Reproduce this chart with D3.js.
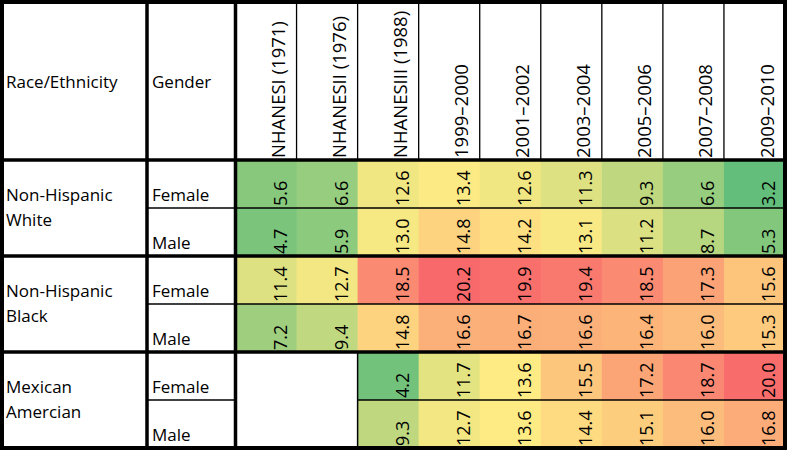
<!DOCTYPE html>
<html>
<head>
<meta charset="utf-8">
<script src="https://cdn.jsdelivr.net/npm/d3@7"></script>
<style>
body { margin: 0; background: #fff; }
text { font-family: "Open Sans", sans-serif; fill: #000; }
</style>
</head>
<body>
<div class="svg-container"></div>
<script>
// survey columns
var surveys = ["NHANESI (1971)", "NHANESII (1976)", "NHANESIII (1988)", "1999–2000",
               "2001–2002", "2003–2004", "2005–2006", "2007–2008", "2009–2010"];
var groups = ["Non-Hispanic White", "Non-Hispanic Black", "Mexican Amercian"];
var genders = ["Female", "Male"];

// values per row (null = no survey)
var white_female = [5.6, 6.6, 12.6, 13.4, 12.6, 11.3, 9.3, 6.6, 3.2];
var white_male   = [4.7, 5.9, 13.0, 14.8, 14.2, 13.1, 11.2, 8.7, 5.3];
var black_female = [11.4, 12.7, 18.5, 20.2, 19.9, 19.4, 18.5, 17.3, 15.6];
var black_male   = [7.2, 9.4, 14.8, 16.6, 16.7, 16.6, 16.4, 16.0, 15.3];
var mex_female   = [null, null, 4.2, 11.7, 13.6, 15.5, 17.2, 18.7, 20.0];
var mex_male     = [null, null, 9.3, 12.7, 13.6, 14.4, 15.1, 16.0, 16.8];

var rows = [white_female, white_male, black_female, black_male, mex_female, mex_male];

var width = 787, height = 450;
var x0 = 2, y0 = 2, x1 = 785, y1 = 448;
var raceRight = 147, genderRight = 235.5, headerBottom = 160;

var svg = d3.select(".svg-container")
    .append("svg")
    .attr("width", width)
    .attr("height", height);

var x = d3.scaleBand().domain(surveys).range([genderRight, x1]);
var y = d3.scaleBand().domain(d3.range(rows.length)).range([headerBottom, y1]);

var all = rows.flat().filter(v => v != null);
var color = d3.scaleLinear()
    .domain([d3.min(all), d3.median(all), d3.max(all)])
    .range(["#63BE7B", "#FFEB84", "#F8696B"]);

var fmt = d3.format(".1f");

// flatten cells
var cells = [];
rows.forEach(function(r, i) {
    r.forEach(function(v, j) {
        if (v != null) cells.push({i: i, j: j, v: v});
    });
});

svg.append("g").selectAll("rect")
    .data(cells)
    .enter()
    .append("rect")
    .attr("x", d => x(surveys[d.j]))
    .attr("y", d => y(d.i))
    .attr("width", x.bandwidth() + 0.6)
    .attr("height", y.bandwidth())
    .attr("fill", d => color(d.v));

svg.append("g").selectAll("text")
    .data(cells)
    .enter()
    .append("text")
    .attr("transform", d => "translate(" + (x(surveys[d.j]) + x.bandwidth() - 10) + "," +
          (y(d.i) + y.bandwidth() - 2) + ") rotate(-90)")
    .style("font-size", "18px")
    .text(d => fmt(d.v));

// header labels
svg.append("text").attr("x", 6).attr("y", 88).style("font-size", "17px").text("Race/Ethnicity");
svg.append("text").attr("x", 152).attr("y", 88).style("font-size", "17px").text("Gender");

svg.append("g").selectAll("text")
    .data(surveys)
    .enter()
    .append("text")
    .attr("transform", d => "translate(" + (x(d) + x.bandwidth() - 11.5) + "," + 158 + ") rotate(-90)")
    .style("font-size", "18.5px")
    .text(d => d);

// group labels, two lines
var glabels = svg.append("g").selectAll("text")
    .data(groups)
    .enter()
    .append("text")
    .attr("x", 6)
    .attr("y", (d, g) => y(g * 2) + 41)
    .style("font-size", "17px");
glabels.selectAll("tspan")
    .data(d => d.split(" "))
    .enter()
    .append("tspan")
    .attr("x", 6)
    .attr("dy", (d, k) => k == 0 ? 0 : 25)
    .text(d => d);

// gender labels
svg.append("g").selectAll("text")
    .data(rows)
    .enter()
    .append("text")
    .attr("x", 152)
    .attr("y", (d, i) => y(i) + y.bandwidth() - 7)
    .style("font-size", "17px")
    .text((d, i) => genders[i % 2]);

// grid lines
var lines = svg.append("g").attr("stroke", "#000");

function line(ax, ay, bx, by, w) {
    lines.append("line")
        .attr("x1", ax).attr("y1", ay).attr("x2", bx).attr("y2", by)
        .attr("stroke-width", w);
}

// thin header separators
surveys.slice(1).forEach(function(s) { line(x(s), y0, x(s), headerBottom, 1.3); });

// female / male split
rows.forEach(function(r, i) {
    if (i % 2 == 0) return;
    var yy = y(i);
    var firstCol = rows[i - 1].findIndex(v => v != null);
    if (firstCol > 0) {
        line(raceRight, yy, genderRight, yy, 1.5);
        line(x(surveys[firstCol]), yy, x1, yy, 1.5);
        line(x(surveys[firstCol]), y(i - 1), x(surveys[firstCol]), y1, 1.5);
    } else {
        line(raceRight, yy, x1, yy, 1.5);
    }
});

// thick lines
line(x0, headerBottom, x1, headerBottom, 3.5);
line(x0, y(2), x1, y(2), 3.5);
line(x0, y(4), x1, y(4), 3.5);
line(raceRight, y0, raceRight, y1, 3.5);
line(genderRight, y0, genderRight, y1, 3.5);

svg.append("rect")
    .attr("x", x0).attr("y", y0)
    .attr("width", x1 - x0).attr("height", y1 - y0)
    .attr("fill", "none")
    .attr("stroke", "#000")
    .attr("stroke-width", 4);
</script>
</body>
</html>
